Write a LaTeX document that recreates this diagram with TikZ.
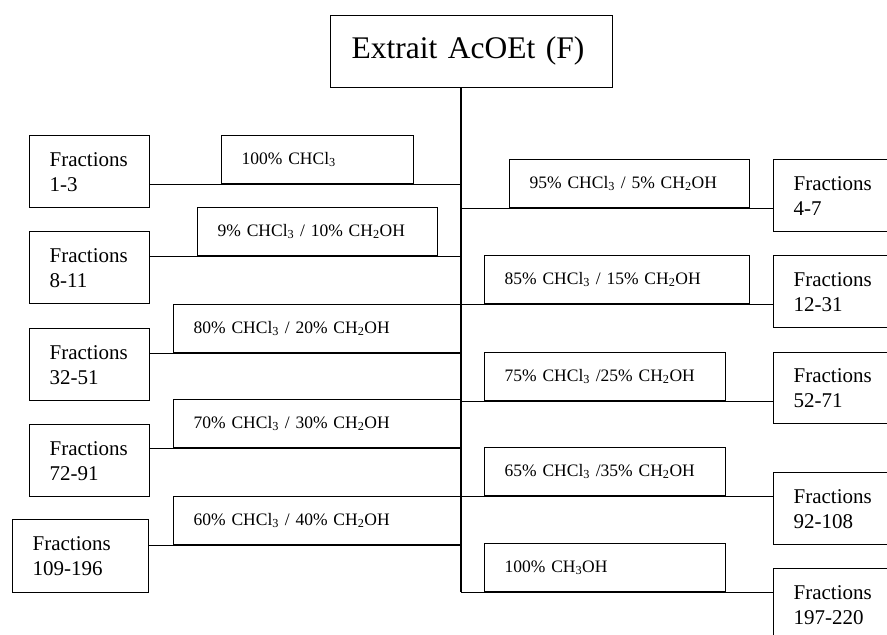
\documentclass[tikz,border=0pt]{standalone}
\usepackage{fontspec}
\setmainfont{Liberation Serif}
\usetikzlibrary{calc}
\begin{document}
\begin{tikzpicture}[x=1pt,y=-1pt,
  box/.style={draw, line width=1.3pt, anchor=north west, inner ysep=0pt, align=left},
  root/.style={box, inner xsep=21pt, font=\fontsize{31.5}{38}\selectfont, minimum height=72pt, text width=240pt},
  frac/.style={box, inner xsep=20pt, font=\fontsize{21}{25}\selectfont, minimum height=72pt},
  solv/.style={box, inner xsep=20pt, font=\fontsize{17.5}{21}\selectfont, minimum height=48pt},
  trunkline/.style={line width=1.8pt},
  branch/.style={line width=1.2pt}]
\useasboundingbox (0,0) rectangle (887,635);
\clip (0,0) rectangle (887,635);

% top extract
\node[root] (root) at (330,15) {Extrait AcOEt (F)\raisebox{0pt}[0pt][8pt]{}};

% left column: fraction boxes
\node[frac, text width=80pt] (f1)   at (29,135) {Fractions\\1-3};
\node[frac, text width=80pt] (f8)   at (29,231) {Fractions\\8-11};
\node[frac, text width=80pt] (f32)  at (29,328) {Fractions\\32-51};
\node[frac, text width=80pt] (f72)  at (29,424) {Fractions\\72-91};
\node[frac, text width=96pt, minimum height=73pt] (f109) at (12,519) {Fractions\\109-196};

% left column: eluent boxes
\node[solv, text width=152pt] (s100) at (221,135) {100\% CHCl\textsubscript{3}};
\node[solv, text width=200pt] (s90)  at (197,207) {9\% CHCl\textsubscript{3} / 10\% CH\textsubscript{2}OH};
\node[solv, text width=248pt] (s80)  at (173,304) {80\% CHCl\textsubscript{3} / 20\% CH\textsubscript{2}OH};
\node[solv, text width=248pt] (s70)  at (173,399) {70\% CHCl\textsubscript{3} / 30\% CH\textsubscript{2}OH};
\node[solv, text width=248pt] (s60)  at (173,496) {60\% CHCl\textsubscript{3} / 40\% CH\textsubscript{2}OH};

% right column: eluent boxes
\node[solv, text width=200pt] (s95)  at (509,159) {95\% CHCl\textsubscript{3} / 5\% CH\textsubscript{2}OH};
\node[solv, text width=225pt] (s85)  at (484,255) {85\% CHCl\textsubscript{3} / 15\% CH\textsubscript{2}OH};
\node[solv, text width=201pt] (s75)  at (484,352) {75\% CHCl\textsubscript{3} /25\% CH\textsubscript{2}OH};
\node[solv, text width=201pt] (s65)  at (484,447) {65\% CHCl\textsubscript{3} /35\% CH\textsubscript{2}OH};
\node[solv, text width=201pt] (sme)  at (484,543) {100\% CH\textsubscript{3}OH};

% right column: fraction boxes
\node[frac, text width=110pt] (f4)   at (773,159) {Fractions\\4-7};
\node[frac, text width=110pt] (f12)  at (773,255) {Fractions\\12-31};
\node[frac, text width=110pt, minimum height=71pt] (f52) at (773,352) {Fractions\\52-71};
\node[frac, text width=110pt] (f92)  at (773,472) {Fractions\\92-108};
\node[frac, text width=110pt] (f197) at (773,568) {Fractions\\197-220};

% main trunk
\coordinate (ttop) at ($(root.south west)+(131,0)$);
\coordinate (tend) at (ttop |- sme.south);
\draw[trunkline] (ttop) -- (tend);

% branches to the left
\foreach \f/\s in {f1/s100, f8/s90, f32/s80, f72/s70, f109/s60}
  \draw[branch] (\f.east |- \s.south) -- (ttop |- \s.south);

% branches to the right
\foreach \s/\f in {s95/f4, s85/f12, s75/f52, s65/f92, sme/f197}
  \draw[branch] (ttop |- \s.south) -- (\f.west |- \s.south);
\end{tikzpicture}
\end{document}
